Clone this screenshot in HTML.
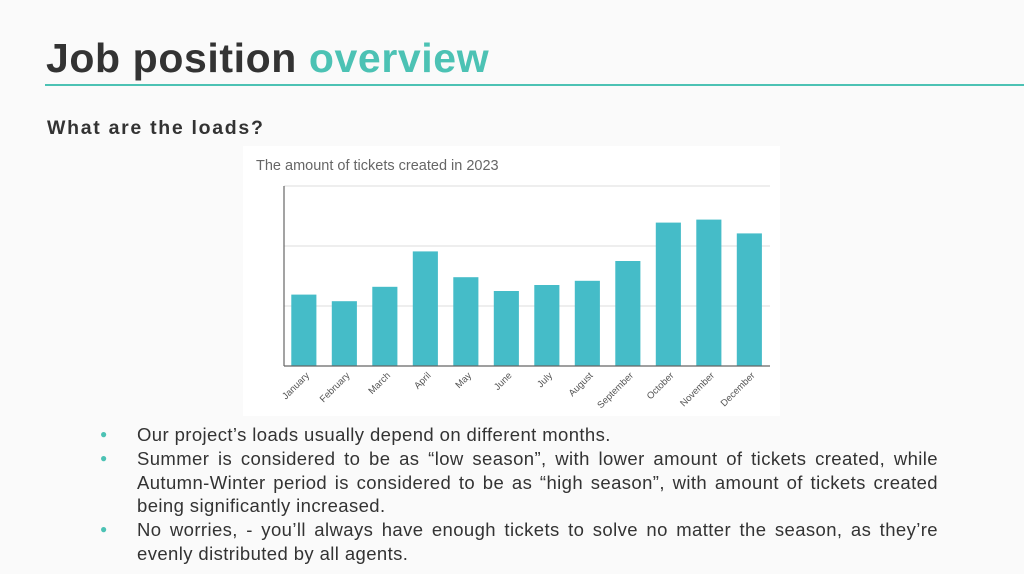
<!DOCTYPE html>
<html><head><meta charset="utf-8"><style>
body{margin:0;width:1024px;height:574px;background:#fafafa;overflow:hidden;font-family:"Liberation Sans",sans-serif;position:relative}
#title{position:absolute;left:46px;top:35px;font-size:41px;font-weight:bold;color:#333;margin:0;letter-spacing:0.6px}
#title span{color:#4cc2b4}
#rule{position:absolute;left:45px;top:84px;width:979px;height:2px;background:#4cc2b4}
#sub{position:absolute;left:47px;top:117px;font-size:19.5px;font-weight:bold;color:#333;letter-spacing:1.7px}
#chart{position:absolute;left:243px;top:146px;width:537px;height:270px;background:#fff}
ul{position:absolute;left:100px;top:423px;width:838px;margin:0;padding:0;list-style:none;font-size:18.5px;line-height:23.8px;color:#333;letter-spacing:0.4px;white-space:nowrap}
li{position:relative;padding-left:37px}
li:before{content:"●";position:absolute;left:0;top:0;color:#4cc2b4;font-size:12px}
.j{display:block;text-align:justify;text-align-last:justify}
.l{display:block}
</style></head><body>
<h1 id="title">Job position <span>overview</span></h1>
<div id="rule"></div>
<div id="sub">What are the loads?</div>
<svg id="chart" width="537" height="270"></svg>
<ul>
<li><span class="l">Our project’s loads usually depend on different months.</span></li>
<li><span class="j">Summer is considered to be as “low season”, with lower amount of tickets created, while</span><span class="j">Autumn-Winter period is considered to be as “high season”, with amount of tickets created</span><span class="l">being significantly increased.</span></li>
<li><span class="j">No worries, - you’ll always have enough tickets to solve no matter the season, as they’re</span><span class="l">evenly distributed by all agents.</span></li>
</ul>
<script>
const months=["January","February","March","April","May","June","July","August","September","October","November","December"];
const tickets=[119,108,132,191,148,125,135,142,175,239,244,221];
const gridValues=[0,100,200,300];
const NS="http://www.w3.org/2000/svg";
const svg=document.getElementById('chart');
const x0=41,x1=527,y0=220,yTop=40,vmax=300;
const y=v=>y0-(v/vmax)*(y0-yTop);
const band=(x1-x0)/months.length;
const bx=i=>x0+band*i+band*0.18;
function mk(t,a){const e=document.createElementNS(NS,t);for(const k in a)e.setAttribute(k,a[k]);svg.appendChild(e);return e;}
const tt=mk('text',{x:13,y:24,'font-size':14.5,fill:'#666','font-family':'Liberation Sans, sans-serif'});
tt.textContent='The amount of tickets created in 2023';


gridValues.forEach(v=>{if(v===0)return;const g=mk('line',{x1:x0,x2:x1,y1:y(v),y2:y(v),stroke:'#ddd','stroke-width':1});

});
tickets.forEach((v,i)=>{const r=mk('rect',{x:bx(i),y:y(v),width:band*0.62,height:y0-y(v),fill:'#45bcc8'});


const cx=bx(i)+band*0.31;
const t=mk('text',{x:cx+6,y:y0+10,'font-size':9.5,fill:'#555','text-anchor':'end','font-family':'Liberation Sans, sans-serif',transform:`rotate(-45 ${cx+6} ${y0+10})`});
t.textContent=months[i];

});
const ax=mk('line',{x1:x0,x2:x0,y1:yTop,y2:y0,stroke:'#666','stroke-width':1.2});


const bl=mk('line',{x1:x0,x2:x1,y1:y0,y2:y0,stroke:'#666','stroke-width':1.2});


</script>
</body></html>
